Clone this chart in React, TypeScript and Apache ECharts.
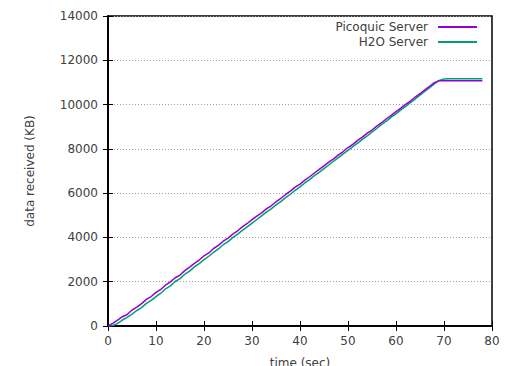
import React, { useEffect, useRef } from "react";
import * as echarts from "echarts";

const times: number[] = [
  0, 1, 2, 3, 4, 5, 6, 7, 8, 9, 10, 11, 12, 13, 14, 15, 16, 17, 18, 19, 20,
  21, 22, 23, 24, 25, 26, 27, 28, 29, 30, 31, 32, 33, 34, 35, 36, 37, 38, 39, 40,
  41, 42, 43, 44, 45, 46, 47, 48, 49, 50, 51, 52, 53, 54, 55, 56, 57, 58, 59, 60,
  61, 62, 63, 64, 65, 66, 67, 68, 69, 70, 71, 72, 73, 74, 75, 76, 77, 78,
];

const picoquic: number[] = [
  0, 120, 270, 420, 520, 720, 850, 1010, 1200, 1330, 1520, 1650, 1850, 1990, 2180, 2300,
  2500, 2660, 2830, 2980, 3170, 3300, 3500, 3640, 3830, 3970, 4150, 4300, 4480, 4630,
  4800, 4960, 5110, 5290, 5430, 5610, 5760, 5940, 6090, 6270, 6410, 6590, 6740, 6910,
  7070, 7230, 7400, 7550, 7730, 7880, 8060, 8200, 8380, 8530, 8710, 8850, 9030, 9180,
  9360, 9510, 9680, 9840, 10010, 10160, 10340, 10490, 10660, 10820, 10990, 11080, 11080,
  11080, 11080, 11080, 11080, 11080, 11080, 11080, 11080,
];

const h2o: number[] = [
  0, 20, 120, 270, 390, 540, 700, 830, 1020, 1160, 1330, 1480, 1680, 1810, 2010, 2140,
  2340, 2480, 2670, 2820, 3000, 3150, 3330, 3480, 3670, 3810, 3990, 4150, 4320, 4480,
  4650, 4810, 4970, 5140, 5290, 5470, 5620, 5800, 5950, 6130, 6280, 6460, 6610, 6790,
  6940, 7110, 7270, 7440, 7600, 7770, 7930, 8100, 8260, 8430, 8590, 8760, 8920, 9100,
  9250, 9430, 9580, 9760, 9920, 10090, 10250, 10430, 10590, 10760, 10930, 11090, 11160,
  11170, 11170, 11170, 11170, 11170, 11170, 11170, 11170,
];

const seriesNames = ["Picoquic Server", "H2O Server"];
const colors = ["#9400D3", "#009E73"];

const FONT = "DejaVu Sans";
const TEXT = "#404040";

export default function App() {
  const ref = useRef<HTMLDivElement>(null);
  useEffect(() => {
    if (!ref.current) return;
    const chart = echarts.init(ref.current, undefined, { renderer: "svg" });
    const tickCommon = {
      show: true,
      inside: true,
      length: 5,
      lineStyle: { color: "#000", width: 1 },
    };
    chart.setOption({
      animation: false,
      backgroundColor: "#fff",
      textStyle: { fontFamily: FONT },
      grid: {
        left: 108,
        right: 16,
        top: 16,
        bottom: 40,
        containLabel: false,
        outerBoundsMode: "none",
        show: true,
        borderColor: "#000",
        borderWidth: 1.5,
        backgroundColor: "transparent",
      },
      legend: {
        orient: "vertical",
        align: "right",
        right: 26,
        top: 15,
        icon: "rect",
        itemWidth: 39,
        itemHeight: 2,
        itemGap: 1,
        textStyle: {
          fontFamily: FONT,
          fontSize: 12,
          color: TEXT,
          lineHeight: 14,
          padding: [0, 5, 0, 0],
        },
        data: seriesNames,
      },
      xAxis: [
        {
          type: "value",
          min: 0,
          max: 80,
          interval: 10,
          position: "bottom",
          name: "time (sec)",
          nameLocation: "middle",
          nameGap: 31,
          nameTextStyle: { fontFamily: FONT, fontSize: 12, color: TEXT },
          axisLine: { show: true, lineStyle: { color: "#000", width: 1.5 } },
          axisTick: tickCommon,
          axisLabel: { fontFamily: FONT, fontSize: 12, color: TEXT, margin: 9 },
          splitLine: { show: false },
        },
        {
          type: "value",
          min: 0,
          max: 80,
          interval: 10,
          position: "top",
          axisLine: { show: true, lineStyle: { color: "#000", width: 1.5 } },
          axisTick: tickCommon,
          axisLabel: { show: false },
          splitLine: { show: false },
        },
      ],
      yAxis: [
        {
          type: "value",
          min: 0,
          max: 14000,
          interval: 2000,
          position: "left",
          name: "data received (KB)",
          nameLocation: "middle",
          nameGap: 72,
          nameRotate: 90,
          nameTextStyle: { fontFamily: FONT, fontSize: 12, color: TEXT },
          axisLine: { show: true, lineStyle: { color: "#000", width: 1.5 } },
          axisTick: tickCommon,
          axisLabel: {
            fontFamily: FONT,
            fontSize: 12,
            color: TEXT,
            margin: 10,
            formatter: (v: number) => String(v),
          },
          splitLine: {
            show: true,
            lineStyle: { color: "#a0a0a0", width: 1, type: [1, 2] },
          },
        },
        {
          type: "value",
          min: 0,
          max: 14000,
          interval: 2000,
          position: "right",
          axisLine: { show: true, lineStyle: { color: "#000", width: 1.5 } },
          axisTick: tickCommon,
          axisLabel: { show: false },
          splitLine: { show: false },
        },
      ],
      series: [
        {
          name: seriesNames[0],
          type: "line",
          showSymbol: false,
          symbol: "none",
          data: times.map((t, i) => [t, picoquic[i]]),
          lineStyle: { color: colors[0], width: 1.5 },
          itemStyle: { color: colors[0] },
          z: 3,
        },
        {
          name: seriesNames[1],
          type: "line",
          showSymbol: false,
          symbol: "none",
          data: times.map((t, i) => [t, h2o[i]]),
          lineStyle: { color: colors[1], width: 1.5 },
          itemStyle: { color: colors[1] },
          z: 2,
        },
      ],
    });
    return () => chart.dispose();
  }, []);
  return <div ref={ref} style={{ width: 508, height: 366, position: "absolute", left: 0, top: 0 }} />;
}
